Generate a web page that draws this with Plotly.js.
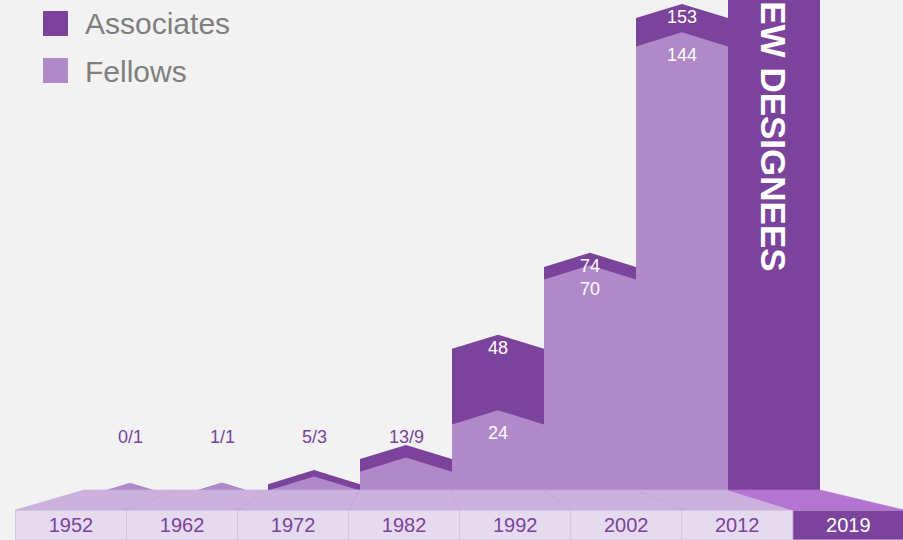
<!DOCTYPE html>
<html>
<head>
<meta charset="utf-8">
<script src="https://cdn.plot.ly/plotly-3.0.1.min.js"></script>
<style>html,body{margin:0;padding:0;background:#f2f2f2;}#chart{width:903px;height:540px;}</style>
</head>
<body>
<div id="chart"></div>
<script>
// ---- data ----
const years = ['1952', '1962', '1972', '1982', '1992', '2002', '2012', '2019'];
const associates = [0, 1, 5, 13, 48, 74, 153];
const fellows = [1, 1, 3, 9, 24, 70, 144];
const newDesigneesLabel = 'NEW DESIGNEES';
const newDesigneesValue = 200; // 2019 bar runs off the top of the picture

// ---- style ----
const DARK = '#7b439c';
const LIGHT = '#b089c9';
const FLOOR_TOP = '#ccb1de';
const FLOOR_FRONT = '#e6daef';
const FLOOR_2019_TOP = '#b474d1';
const BG = '#f2f2f2';
const FONT = 'Arial, "Liberation Sans", sans-serif';
const rise = 4.5;       // chevron peak height in value units
const vp = 3.1;         // perspective vanishing point (slot units)
const persp = 1.207;    // front-face widening factor
const front = u => vp + persp * (u - vp);
const floorTopY = 50 / 540, floorBotY = 30 / 540;

function chevrons(vals) {
  const xs = [], ys = [];
  vals.forEach((v, i) => {
    xs.push(i - 0.5, i - 0.5, i, i + 0.5, i + 0.5, i - 0.5, null);
    ys.push(-12, v, v + rise, v, -12, -12, null);
  });
  return {xs, ys};
}
const a = chevrons(associates);
const f = chevrons(fellows);
const last = years.length - 1;

const traces = [
  {type: 'scatter', mode: 'lines', x: a.xs, y: a.ys, fill: 'toself', fillcolor: DARK,
   line: {width: 0}, hoverinfo: 'skip', showlegend: false, name: 'Associates'},
  {type: 'scatter', mode: 'lines', x: f.xs, y: f.ys, fill: 'toself', fillcolor: LIGHT,
   line: {width: 0}, hoverinfo: 'skip', showlegend: false, name: 'Fellows'},
  {type: 'scatter', mode: 'lines',
   x: [last - 0.5, last - 0.5, last + 0.5, last + 0.5, last - 0.5],
   y: [-12, newDesigneesValue, newDesigneesValue, -12, -12],
   fill: 'toself', fillcolor: DARK, line: {width: 0}, hoverinfo: 'skip', showlegend: false},
  {type: 'bar', xaxis: 'x', yaxis: 'y2',
   x: years.map((y, i) => front(i)), y: years.map(() => 1), width: persp,
   marker: {color: years.map((y, i) => i === last ? DARK : FLOOR_FRONT),
            line: {color: '#d6c4e3', width: 1}},
   text: years, textposition: 'inside', insidetextanchor: 'middle', constraintext: 'none',
   textfont: {family: FONT, size: 20, color: years.map((y, i) => i === last ? '#ffffff' : DARK)},
   hoverinfo: 'skip', showlegend: false}
];

const shapes = [];
years.forEach((y, i) => {
  shapes.push({
    type: 'path', xref: 'x', yref: 'paper', layer: 'above',
    path: `M ${i - 0.5},${floorTopY} L ${i + 0.5},${floorTopY} L ${front(i + 0.5)},${floorBotY} L ${front(i - 0.5)},${floorBotY} Z`,
    fillcolor: i === last ? FLOOR_2019_TOP : FLOOR_TOP,
    line: {color: i === last ? FLOOR_2019_TOP : '#c6a9da', width: 0.6}
  });
});
// legend swatches
shapes.push({type: 'rect', xref: 'paper', yref: 'paper', x0: 43 / 903, x1: 68 / 903,
  y0: 1 - 36 / 540, y1: 1 - 11 / 540, fillcolor: DARK, line: {width: 0}});
shapes.push({type: 'rect', xref: 'paper', yref: 'paper', x0: 43 / 903, x1: 68 / 903,
  y0: 1 - 83 / 540, y1: 1 - 58 / 540, fillcolor: LIGHT, line: {width: 0}});

const annotations = [
  {xref: 'paper', yref: 'paper', x: 83 / 903, y: 1 - 24 / 540, xanchor: 'left', yanchor: 'middle',
   text: 'Associates', showarrow: false, font: {family: FONT, size: 30, color: '#7f7f7f'}},
  {xref: 'paper', yref: 'paper', x: 83 / 903, y: 1 - 71 / 540, xanchor: 'left', yanchor: 'middle',
   text: 'Fellows', showarrow: false, font: {family: FONT, size: 30, color: '#7f7f7f'}},
  {xref: 'x', yref: 'paper', x: last, y: 1 - 124 / 540, xanchor: 'center', yanchor: 'middle',
   text: newDesigneesLabel, textangle: 90, showarrow: false,
   font: {family: FONT, size: 35, color: '#ffffff', weight: 'bold'}}
];
associates.forEach((v, i) => {
  if (fellows[i] < 20) {
    annotations.push({xref: 'x', yref: 'paper', x: i, y: 1 - 437 / 540, xanchor: 'center', yanchor: 'middle',
      text: v + '/' + fellows[i], showarrow: false, font: {family: FONT, size: 18, color: DARK}});
  } else {
    annotations.push({xref: 'x', yref: 'y', x: i, y: v, yshift: 1, xanchor: 'center', yanchor: 'middle',
      text: String(v), showarrow: false, font: {family: FONT, size: 18, color: '#ffffff'}});
    annotations.push({xref: 'x', yref: 'y', x: i, y: fellows[i], yshift: -9, xanchor: 'center', yanchor: 'middle',
      text: String(fellows[i]), showarrow: false, font: {family: FONT, size: 18, color: '#ffffff'}});
  }
});

const hidden = {showgrid: false, zeroline: false, showticklabels: false, ticks: '', showline: false, fixedrange: true};
const layout = {
  width: 903, height: 540,
  margin: {l: 0, r: 0, t: 0, b: 0, pad: 0},
  paper_bgcolor: BG, plot_bgcolor: 'rgba(0,0,0,0)',
  showlegend: false,
  xaxis: Object.assign({range: [-130 / 92, 773 / 92], domain: [0, 1]}, hidden),
  yaxis: Object.assign({range: [-40 / 3.15, 500 / 3.15], domain: [0, 1]}, hidden),
  yaxis2: Object.assign({range: [0, 1], domain: [0, 30 / 540], anchor: 'x'}, hidden),
  bargap: 0,
  shapes: shapes,
  annotations: annotations,
  font: {family: FONT}
};
Plotly.newPlot('chart', traces, layout, {displayModeBar: false, staticPlot: true});
</script>
</body>
</html>
